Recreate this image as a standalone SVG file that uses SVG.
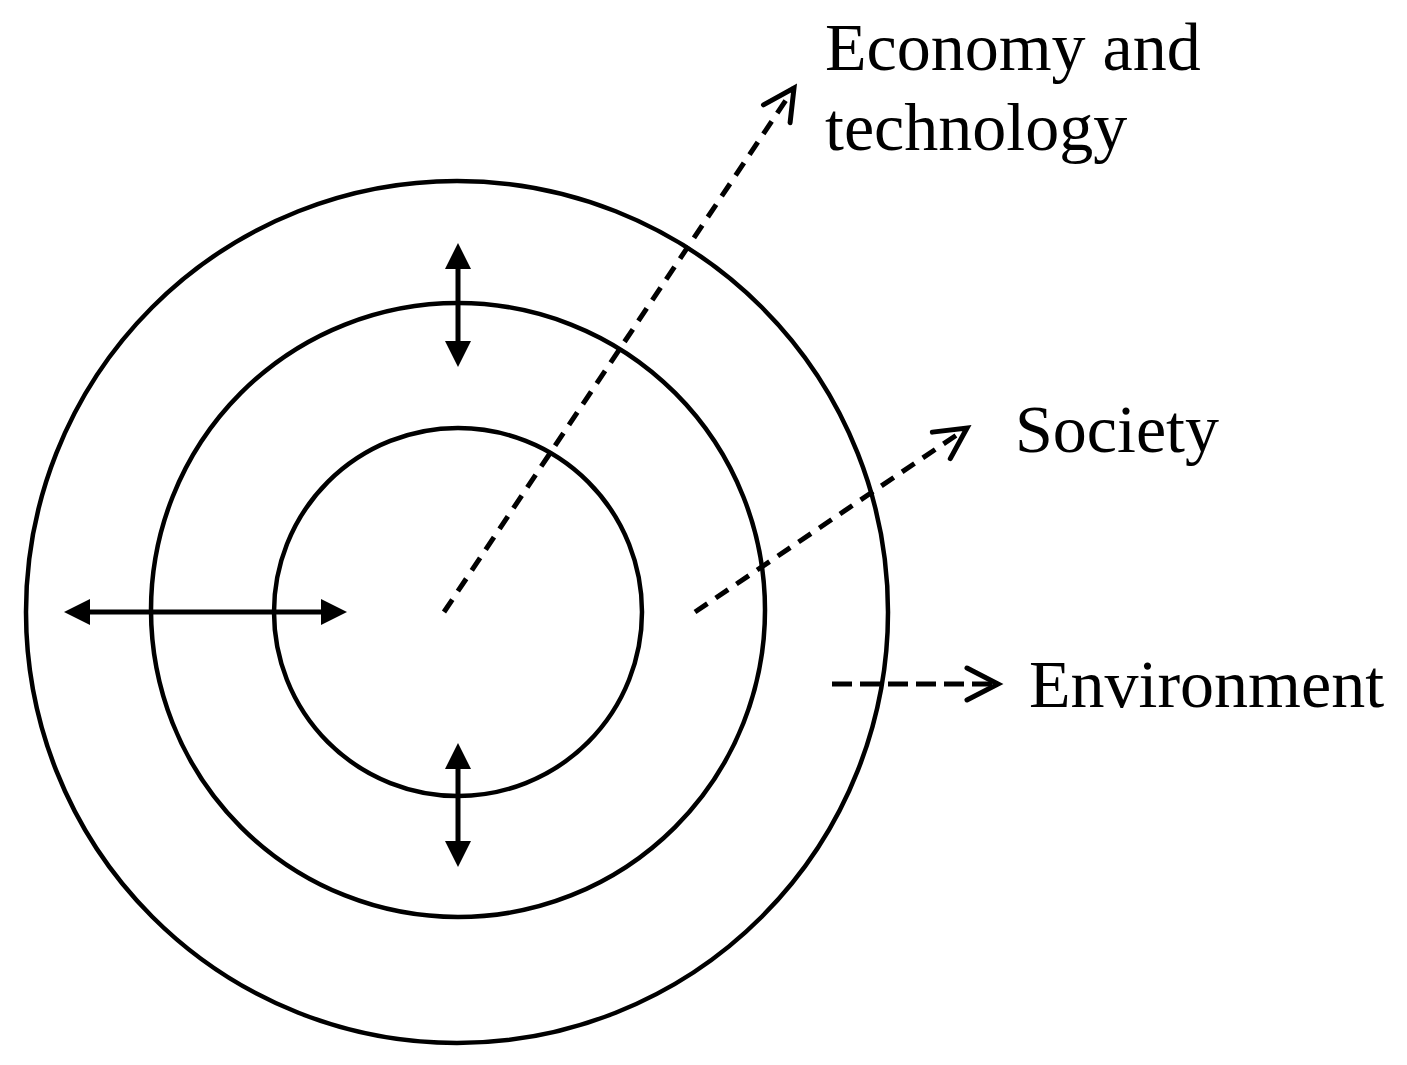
<svg xmlns="http://www.w3.org/2000/svg" width="1407" height="1065" viewBox="0 0 1407 1065">
<style>
.ring{fill:none;stroke:#000;stroke-width:4.5}
.solid{fill:none;stroke:#000;stroke-width:5}
.dash{fill:none;stroke:#000;stroke-width:5;stroke-dasharray:15 10}
.label{font-family:"Liberation Serif","Times New Roman",serif;font-size:68px;fill:#000}
</style>
<defs>
<marker id="filled" markerUnits="userSpaceOnUse" markerWidth="50" markerHeight="40" viewBox="-30 -20 50 40" refX="0" refY="0" orient="auto-start-reverse">
<path d="M10 0 L-16 -13 L-16 13 Z" fill="#000"/>
</marker>
<marker id="open" markerUnits="userSpaceOnUse" markerWidth="50" markerHeight="50" viewBox="-40 -25 50 50" refX="0" refY="0" orient="auto">
<path d="M-31 -16 L0 0 L-31 16" fill="none" stroke="#000" stroke-width="5" stroke-linecap="round" stroke-linejoin="miter"/>
</marker>
</defs>
<rect width="1407" height="1065" fill="#fff"/>
<g id="rings">
<circle id="outer" class="ring" cx="457" cy="612" r="431"/>
<circle id="middle" class="ring" cx="458" cy="610" r="307"/>
<circle id="inner" class="ring" cx="458" cy="612" r="184"/>
</g>
<g id="connectors">
<line class="solid" x1="458" y1="253" x2="458" y2="357" marker-start="url(#filled)" marker-end="url(#filled)"/>
<line class="solid" x1="458" y1="753" x2="458" y2="857" marker-start="url(#filled)" marker-end="url(#filled)"/>
<line class="solid" x1="74" y1="612" x2="337" y2="612" marker-start="url(#filled)" marker-end="url(#filled)"/>
<line class="dash" x1="444" y1="612" x2="794" y2="88" marker-end="url(#open)"/>
<line class="dash" x1="695" y1="612" x2="967" y2="428" marker-end="url(#open)"/>
<line class="dash" x1="832" y1="684" x2="998" y2="684" style="stroke-dasharray:20 8" marker-end="url(#open)"/>
</g>
<g id="economy">
<text class="label" x="825" y="70">Economy and</text>
<text class="label" x="825" y="150">technology</text>
</g>
<g id="society">
<text class="label" x="1015" y="452">Society</text>
</g>
<g id="environment">
<text class="label" x="1029" y="707">Environment</text>
</g>
</svg>
